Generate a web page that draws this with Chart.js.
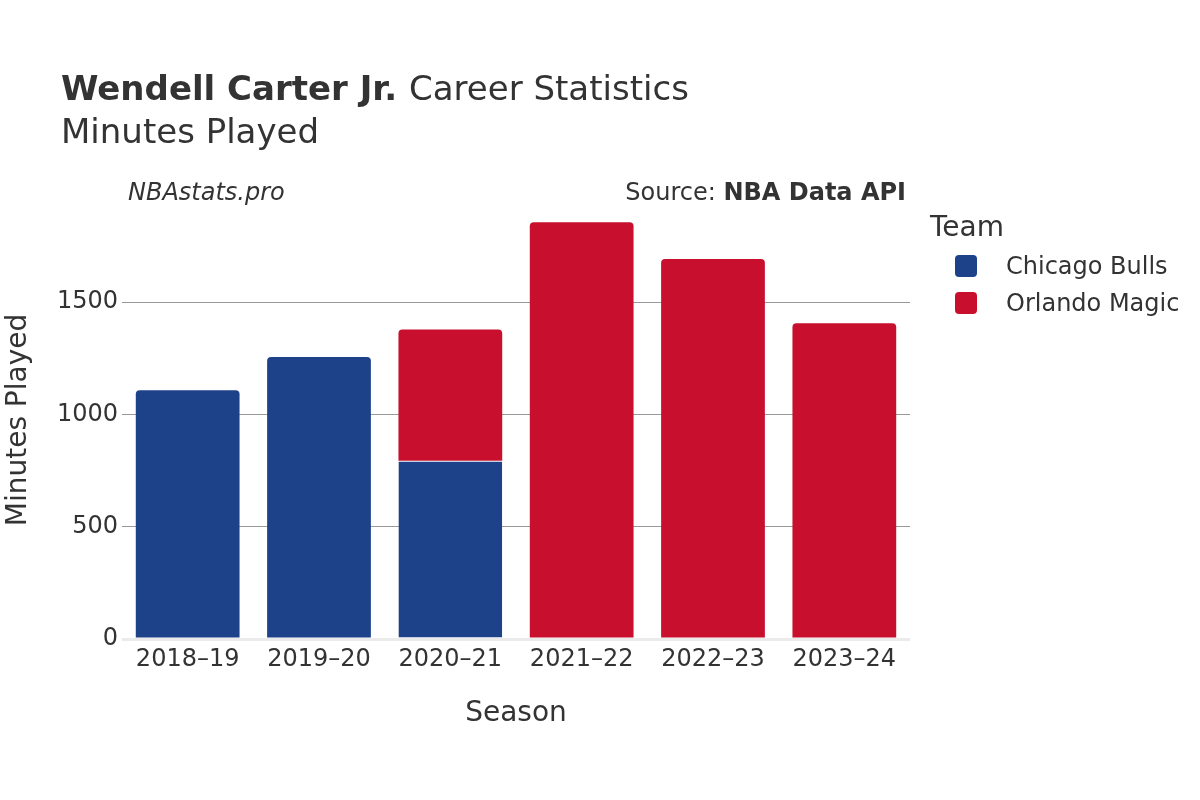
<!DOCTYPE html>
<html>
<head>
<meta charset="utf-8">
<script src="https://cdn.jsdelivr.net/npm/chart.js@4.4.1/dist/chart.umd.min.js"></script>
<style>
  html, body { margin: 0; padding: 0; background: #fff; }
  #wrap { width: 1200px; height: 800px; }
</style>
</head>
<body>
<div id="wrap"><canvas id="chart" width="1200" height="800"></canvas></div>
<script>
const seasons = ['2018–19', '2019–20', '2020–21', '2021–22', '2022–23', '2023–24'];
const bullsMinutes = [1108, 1255, 794, null, null, null];
const magicMinutes = [null, null, 584, 1855, 1692, 1406];
const yTicks = [0, 500, 1000, 1500];

const BULLS = '#1d428a';
const MAGIC = '#c8102e';
const TEXT = '#333333';
const FONT = '"DejaVu Sans", sans-serif';

// plot box (matches reference)
const PLOT = { left: 122, right: 910, top: 201, bottom: 639 };

const decorations = {
    id: 'decorations',
    afterDraw(chart) {
        const ctx = chart.ctx;
        ctx.save();
        ctx.fillStyle = TEXT;
        ctx.textBaseline = 'middle';

        // title
        ctx.textAlign = 'left';
        ctx.font = 'bold 34px ' + FONT;
        const boldPart = 'Wendell Carter Jr.';
        ctx.fillText(boldPart, 61, 91);
        const w = ctx.measureText(boldPart + ' ').width;
        ctx.font = '34px ' + FONT;
        ctx.fillText('Career Statistics', 61 + w, 91);
        ctx.fillText('Minutes Played', 61, 134);

        // annotations
        ctx.font = 'italic 24px ' + FONT;
        ctx.fillText('NBAstats.pro', 128, 194);
        ctx.textAlign = 'right';
        ctx.font = 'bold 24px ' + FONT;
        const src = 'NBA Data API';
        ctx.fillText(src, 906, 194);
        const sw = ctx.measureText(src).width;
        ctx.font = '24px ' + FONT;
        ctx.fillText('Source: ', 906 - sw, 194);

        // axis titles
        ctx.textAlign = 'center';
        ctx.font = '28px ' + FONT;
        ctx.fillText('Season', (PLOT.left + PLOT.right) / 2, 714);
        ctx.save();
        ctx.translate(19, 420);
        ctx.rotate(-Math.PI / 2);
        ctx.fillText('Minutes Played', 0, 0);
        ctx.restore();

        // legend
        ctx.textAlign = 'left';
        ctx.font = '28px ' + FONT;
        ctx.fillText('Team', 930, 229);
        ctx.font = '24px ' + FONT;
        chart.data.datasets.forEach((ds, i) => {
            const y = 266 + i * 37;
            ctx.fillStyle = ds.backgroundColor;
            ctx.beginPath();
            ctx.roundRect(955, y - 11, 22, 22, 4);
            ctx.fill();
            ctx.fillStyle = TEXT;
            ctx.fillText(ds.label, 1006, y + 2);
        });
        ctx.restore();
    }
};

new Chart(document.getElementById('chart'), {
    type: 'bar',
    data: {
        labels: seasons,
        datasets: [
            {
                label: 'Chicago Bulls',
                data: bullsMinutes,
                backgroundColor: BULLS,
                borderColor: '#ffffff',
                borderWidth: (c) => c.dataIndex === 2 ? { top: 1 } : 0,
                borderRadius: (c) => c.dataIndex === 2 ? 0 : 4,
                borderSkipped: 'start'
            },
            {
                label: 'Orlando Magic',
                data: magicMinutes,
                backgroundColor: MAGIC,
                borderWidth: 0,
                borderRadius: (c) => c.dataIndex === 2 ? { topLeft: 4, topRight: 4 } : 4,
                borderSkipped: 'start'
            }
        ]
    },
    options: {
        responsive: false,
        animation: false,
        devicePixelRatio: 1,
        layout: { padding: { left: 0, right: 1200 - PLOT.right, top: PLOT.top, bottom: 0 } },
        plugins: { legend: { display: false }, tooltip: { enabled: false } },
        datasets: { bar: { categoryPercentage: 1, barPercentage: 0.79 } },
        scales: {
            x: {
                stacked: true,
                grid: { display: false },
                border: { display: false },
                ticks: { color: TEXT, font: { family: FONT, size: 24 }, padding: -2, maxRotation: 0 },
                afterFit(scale) { scale.height = 800 - PLOT.bottom; }
            },
            y: {
                stacked: true,
                min: 0,
                max: 1950,
                border: { display: false },
                grid: {
                    drawTicks: false,
                    color: (c) => c.tick && c.tick.value === 0 ? '#ebebeb' : '#999999',
                    lineWidth: (c) => c.tick && c.tick.value === 0 ? 3 : 1
                },
                ticks: {
                    color: TEXT,
                    font: { family: FONT, size: 24 },
                    padding: 4,
                    callback: (v) => String(v)
                },
                afterBuildTicks(scale) { scale.ticks = yTicks.map(v => ({ value: v })); },
                afterFit(scale) { scale.width = PLOT.left; }
            }
        }
    },
    plugins: [decorations]
});
</script>
</body>
</html>
